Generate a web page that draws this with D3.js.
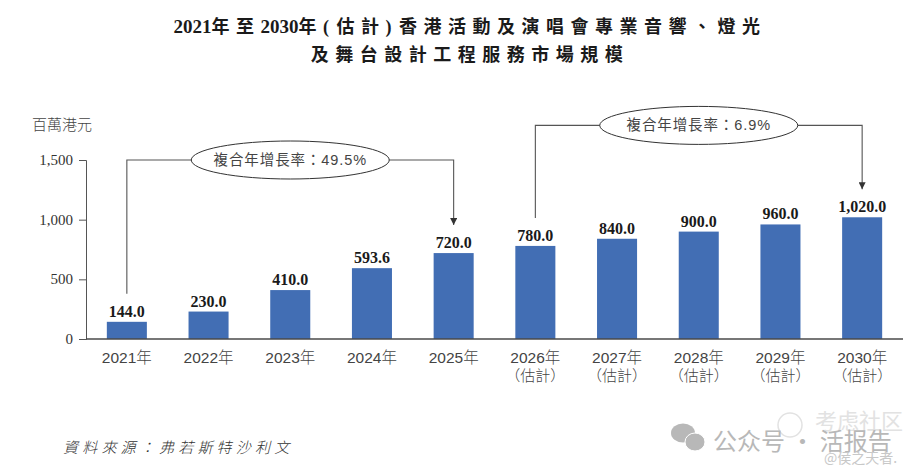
<!DOCTYPE html>
<html>
<head>
<meta charset="utf-8">
<title>香港活動及演唱會專業音響、燈光及舞台設計工程服務市場規模</title>
<style>
  html, body { margin: 0; padding: 0; background: #fff; }
  svg { display: block; }
  .cjk { font-family: "Liberation Sans", "Noto Sans CJK TC", sans-serif; fill: #444; }
  .num { font-family: "Liberation Serif", "Noto Sans CJK TC", serif; }
</style>
</head>
<body>
<svg id="chart"></svg>
<script src="https://cdn.jsdelivr.net/npm/d3@7"></script>
<script>
const years = ['2021年', '2022年', '2023年', '2024年', '2025年', '2026年', '2027年', '2028年', '2029年', '2030年'];
const estimated = ['2026年', '2027年', '2028年', '2029年', '2030年'];
const values = [144.0, 230.0, 410.0, 593.6, 720.0, 780.0, 840.0, 900.0, 960.0, 1020.0];
const yTicks = [0, 500, 1000, 1500];
const titleLines = ['2021年至2030年(估計)香港活動及演唱會專業音響、燈光', '及舞台設計工程服務市場規模'];
const unitLabel = '百萬港元';
const sourceLabel = '資料來源\uFF1A弗若斯特沙利文';
const estimateLabel = '\uFF08估計\uFF09';
const cagrLabels = ['複合年增長率\uFF1A49.5%', '複合年增長率\uFF1A6.9%'];
const cagrFrom = ['2021年', '2026年'];
const cagrTo = ['2025年', '2030年'];
const cagrMid = ['2023年', '2028年'];
const cagrLevel = [1500, 1790];

const [width, height] = [923, 476];
const svg = d3.select('#chart').attr('width', width).attr('height', height);

const x = d3.scaleBand().domain(years).range([86, 903]).paddingInner(0.51).paddingOuter(0.255);
const y = d3.scaleLinear().domain([0, 1500]).range([339, 160]);
const cx = d => x(d) + x.bandwidth() / 2;
const valueOf = d => values[years.indexOf(d)];

svg.append('defs').append('marker')
  .attr('id', 'arrow').attr('viewBox', '0 0 8 8').attr('refX', 8).attr('refY', 4)
  .attr('markerWidth', 8).attr('markerHeight', 7).attr('markerUnits', 'userSpaceOnUse')
  .attr('orient', 'auto')
  .append('path').attr('d', 'M0,0L8,4L0,8Z').attr('fill', '#333');

// title: digits sit tight, everything else is spaced out
svg.append('g').selectAll('text').data(titleLines).enter().append('text')
  .attr('x', 470).attr('y', (d, i) => 33 + i * 28)
  .attr('text-anchor', 'middle')
  .style('font-family', '"Liberation Serif", "Noto Sans CJK TC", serif')
  .style('font-weight', 700).style('font-size', '18px')
  .attr('fill', '#1a1a1a')
  .each(function(d) {
    d3.select(this).selectAll('tspan').data(d.match(/\d+|\D/g)).enter().append('tspan')
      .style('font-size', s => /\d/.test(s) ? '19px' : '18px')
      .style('letter-spacing', s => /\d/.test(s) ? '0' : /[()]/.test(s) ? '7.5px' : '6.5px')
      .text(s => s);
  });

svg.append('text').attr('class', 'cjk').attr('x', 32).attr('y', 130)
  .style('font-size', '15px').style('font-weight', 300).text(unitLabel);

// bars
svg.append('g').selectAll('rect').data(years).enter().append('rect')
  .attr('x', d => x(d)).attr('y', d => y(valueOf(d)))
  .attr('width', x.bandwidth()).attr('height', d => y(0) - y(valueOf(d)))
  .attr('fill', '#426eb4');

svg.append('g').selectAll('text').data(years).enter().append('text')
  .attr('class', 'num')
  .attr('x', cx).attr('y', d => y(valueOf(d)) - 5)
  .attr('text-anchor', 'middle')
  .style('font-size', '16px').style('font-weight', 700).attr('fill', '#1a1a1a')
  .text(d => d3.format(',.1f')(valueOf(d)));

// axes
const yAxis = svg.append('g').attr('transform', 'translate(86,0)')
  .call(d3.axisLeft(y).tickValues(yTicks).tickSize(7).tickPadding(6).tickFormat(d3.format(',')));
yAxis.selectAll('path, line').attr('stroke', '#555').attr('stroke-width', 1);
yAxis.selectAll('text').attr('class', 'num').attr('fill', '#333').attr('dy', '0.3em').style('font-size', '15px');

svg.append('line').attr('x1', 86).attr('x2', 903).attr('y1', y(0)).attr('y2', y(0))
  .attr('stroke', '#4a4a4a').attr('stroke-width', 1.6);

const xLabels = svg.append('g').selectAll('g').data(years).enter().append('g')
  .attr('transform', d => 'translate(' + cx(d) + ',0)');
xLabels.append('text').attr('class', 'cjk').attr('y', 363).attr('text-anchor', 'middle')
  .style('font-size', '15.5px').style('font-weight', 300).text(d => d);
xLabels.filter(d => estimated.includes(d)).append('text').attr('class', 'cjk')
  .attr('y', 381).attr('text-anchor', 'middle')
  .style('font-size', '15px').style('font-weight', 300).text(estimateLabel);

// CAGR brackets
cagrLabels.forEach((label, i) => {
  const top = y(cagrLevel[i]);
  const x0 = cx(cagrFrom[i]), x1 = cx(cagrTo[i]), mid = cx(cagrMid[i]);
  svg.append('path')
    .attr('d', d3.line()([[x0, y(valueOf(cagrFrom[i])) - 28], [x0, top], [x1, top], [x1, y(valueOf(cagrTo[i])) - 28]]))
    .attr('fill', 'none').attr('stroke', '#555').attr('stroke-width', 1.1)
    .attr('marker-end', 'url(#arrow)');
  svg.append('ellipse').attr('cx', mid).attr('cy', top).attr('rx', 99).attr('ry', 19)
    .attr('fill', '#fff').attr('stroke', '#333').attr('stroke-width', 1);
  svg.append('text').attr('class', 'cjk').attr('x', mid).attr('y', top + 5)
    .attr('text-anchor', 'middle').style('font-size', '14.5px').attr('fill', '#222')
    .style('letter-spacing', '0.9px')
    .text(label);
});

// source
svg.append('text').attr('x', 63).attr('y', 453)
  .style('font-family', '"Noto Sans CJK TC", sans-serif').style('font-style', 'italic')
  .style('font-size', '15px').style('letter-spacing', '4.2px').style('font-weight', 300)
  .attr('fill', '#333').text(sourceLabel);

// watermark
const wm = svg.append('g').attr('fill', '#b8b8b8').style('font-family', '"Noto Sans CJK SC", sans-serif');
wm.append('ellipse').attr('cx', 683).attr('cy', 433).attr('rx', 12).attr('ry', 9.5);
wm.append('ellipse').attr('cx', 695).attr('cy', 442).attr('rx', 10).attr('ry', 9).attr('stroke', '#fff');
wm.append('circle').attr('cx', 790).attr('cy', 425).attr('r', 12)
  .attr('fill', 'none').attr('stroke', '#e2e2e2').attr('stroke-width', 1.5);
wm.append('text').attr('x', 815).attr('y', 429).style('font-size', '22px').attr('fill', '#e2e2e2').text('考虑社区');
wm.append('text').attr('x', 713).attr('y', 450).style('font-size', '24px').text('公众号 · 活报告');
wm.append('text').attr('x', 824).attr('y', 463).style('font-size', '14px').attr('fill', '#c8c8c8').text('@侯之天者.');
</script>
</body>
</html>
